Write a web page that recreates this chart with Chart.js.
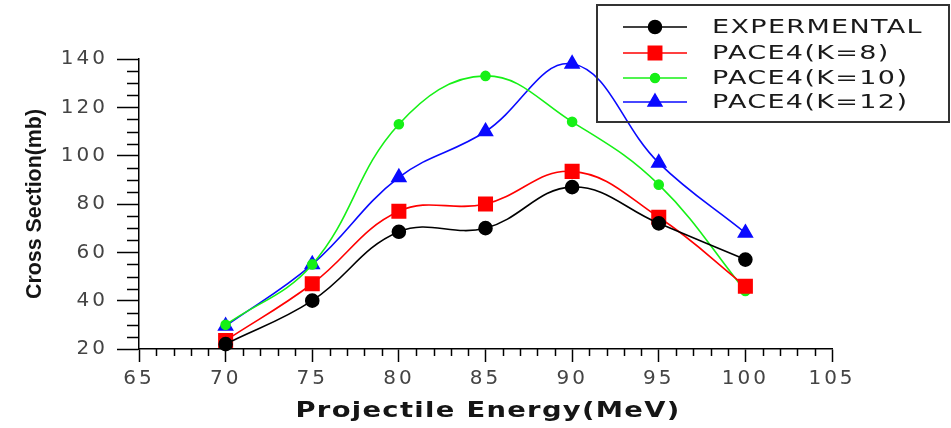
<!DOCTYPE html>
<html>
<head>
<meta charset="utf-8">
<script src="https://cdn.jsdelivr.net/npm/chart.js@4"></script>
<style>
  html, body { margin: 0; padding: 0; background: #fff; }
  #wrap { width: 951px; height: 428px; }
</style>
</head>
<body>
<div id="wrap"><canvas id="chart"></canvas></div>
<script>
// ── DATA ───────────────────────────────────────────────────────────────
const energies   = [70, 75, 80, 85, 90, 95, 100];          // MeV
const expVals    = [22, 40, 68.5, 70, 87, 72, 57];          // EXPERMENTAL
const paceK8     = [23.5, 47, 77, 80, 93.5, 74.5, 46];      // PACE4(K=8)
const paceK10    = [30, 55, 113, 133, 114, 88, 44];         // PACE4(K=10)
const paceK12    = [29.5, 55, 91, 110, 138, 97, 68];        // PACE4(K=12)
const seriesNames = ['EXPERMENTAL', 'PACE4(K=8)', 'PACE4(K=10)', 'PACE4(K=12)'];
const xTicks = { min: 65, max: 105, step: 5, minor: 1 };
const yTicks = { min: 20, max: 140, step: 20, minor: 5 };

const pts = arr => arr.map((v, i) => ({ x: energies[i], y: v }));
const SANS = '"DejaVu Sans", "Noto Sans", sans-serif';

// stretch text horizontally to a target width (the reference is wide-set)
function fitText(ctx, text, x, y, width, sx) {
  const w = ctx.measureText(text).width;
  const s = sx || width / w;
  ctx.save();
  ctx.translate(x, y);
  ctx.scale(s, 1);
  ctx.fillText(text, 0, 0);
  ctx.restore();
  return s;
}

// ── PLUGIN: minor ticks, axis titles, boxed legend ─────────────────────
const decor = {
  id: 'decor',
  beforeDraw(chart) { chart.ctx.letterSpacing = '3px'; },
  afterDraw(chart) {
    const ctx = chart.ctx, xs = chart.scales.x, ys = chart.scales.y;
    const a = chart.chartArea;
    ctx.save();
    ctx.letterSpacing = '0px';

    // minor ticks
    ctx.strokeStyle = '#000'; ctx.lineWidth = 1.5;
    ctx.beginPath();
    for (let v = xTicks.min; v <= xTicks.max; v += xTicks.minor) {
      if (v % xTicks.step === 0) continue;
      const px = Math.round(xs.getPixelForValue(v)) + 0.5;
      ctx.moveTo(px, a.bottom); ctx.lineTo(px, a.bottom + 7);
    }
    for (let v = yTicks.min; v <= yTicks.max; v += yTicks.minor) {
      if (v % yTicks.step === 0) continue;
      const py = Math.round(ys.getPixelForValue(v)) + 0.5;
      ctx.moveTo(a.left - 12, py); ctx.lineTo(a.left, py);
    }
    ctx.stroke();

    // axis titles
    ctx.fillStyle = '#151515';
    ctx.textAlign = 'left'; ctx.textBaseline = 'alphabetic';
    ctx.font = 'bold 21px ' + SANS;
    ctx.letterSpacing = '1px';
    fitText(ctx, 'Projectile Energy(MeV)', (a.left + a.right) / 2 - 190, 417, 385);

    ctx.save();
    ctx.translate(41, (a.top + a.bottom) / 2 + 95);
    ctx.rotate(-Math.PI / 2);
    ctx.letterSpacing = '0px';
    ctx.font = 'bold 22px "Liberation Sans Narrow", "Liberation Sans", sans-serif';
    fitText(ctx, 'Cross Section(mb)', 0, 0, 190);
    ctx.restore();

    // legend box
    ctx.strokeStyle = '#333'; ctx.lineWidth = 2;
    ctx.strokeRect(597, 5, 352, 117);
    const rows = [27, 53, 78, 102];
    ctx.font = '20px ' + SANS;
    ctx.letterSpacing = '1px';
    ctx.textBaseline = 'middle';
    let sx = null;
    chart.data.datasets.forEach((ds, i) => {
      const y = rows[i];
      ctx.strokeStyle = ds.borderColor; ctx.lineWidth = 1.5;
      ctx.beginPath(); ctx.moveTo(623, y); ctx.lineTo(687, y); ctx.stroke();
      Chart.helpers.drawPoint(ctx, {
        pointStyle: ds.pointStyle, radius: ds.pointRadius, rotation: 0, borderWidth: 1
      }, 655, y);
      ctx.fillStyle = ds.pointBackgroundColor; ctx.fill();
      ctx.fillStyle = '#1a1a1a';
      if (sx === null) sx = fitText(ctx, ds.label, 712, y + 1, 211);
      else fitText(ctx, ds.label, 712, y + 1, 0, sx);
    });
    ctx.restore();
  }
};

const mk = (label, data, color, style, r) => ({
  label, data: pts(data), borderColor: color, backgroundColor: color,
  pointBackgroundColor: color, pointBorderColor: color,
  pointStyle: style, pointRadius: r, pointHoverRadius: r,
  borderWidth: 1.6, tension: 0.4, clip: false
});

new Chart(document.getElementById('chart'), {
  type: 'line',
  data: { datasets: [
    mk(seriesNames[0], expVals, '#000000', 'circle', 6.5),
    mk(seriesNames[1], paceK8,  '#ff0000', 'rect', 9.5),
    mk(seriesNames[2], paceK10, '#16f016', 'circle', 4.5),
    mk(seriesNames[3], paceK12, '#0a0aff', 'triangle', 8)
  ]},
  options: {
    responsive: true, maintainAspectRatio: false, animation: false,
    layout: { padding: { top: 59, right: 119, left: 0, bottom: 0 } },
    plugins: { legend: { display: false }, tooltip: { enabled: false } },
    scales: {
      x: {
        type: 'linear', min: xTicks.min, max: xTicks.max,
        afterFit: s => { s.height = 79; },
        ticks: { stepSize: xTicks.step, color: '#444', padding: 5,
                 font: { family: SANS, size: 20 } },
        grid: { drawOnChartArea: false, tickLength: 13, tickColor: '#000', tickWidth: 1.5 },
        border: { color: '#000', width: 1.5 }
      },
      y: {
        min: yTicks.min, max: yTicks.max,
        afterFit: s => { s.width = 139; },
        ticks: { stepSize: yTicks.step, color: '#444', padding: 9,
                 font: { family: SANS, size: 20 } },
        grid: { drawOnChartArea: false, tickLength: 22, tickColor: '#000', tickWidth: 1.5 },
        border: { color: '#000', width: 1.5 }
      }
    }
  },
  plugins: [decor]
});
</script>
</body>
</html>
